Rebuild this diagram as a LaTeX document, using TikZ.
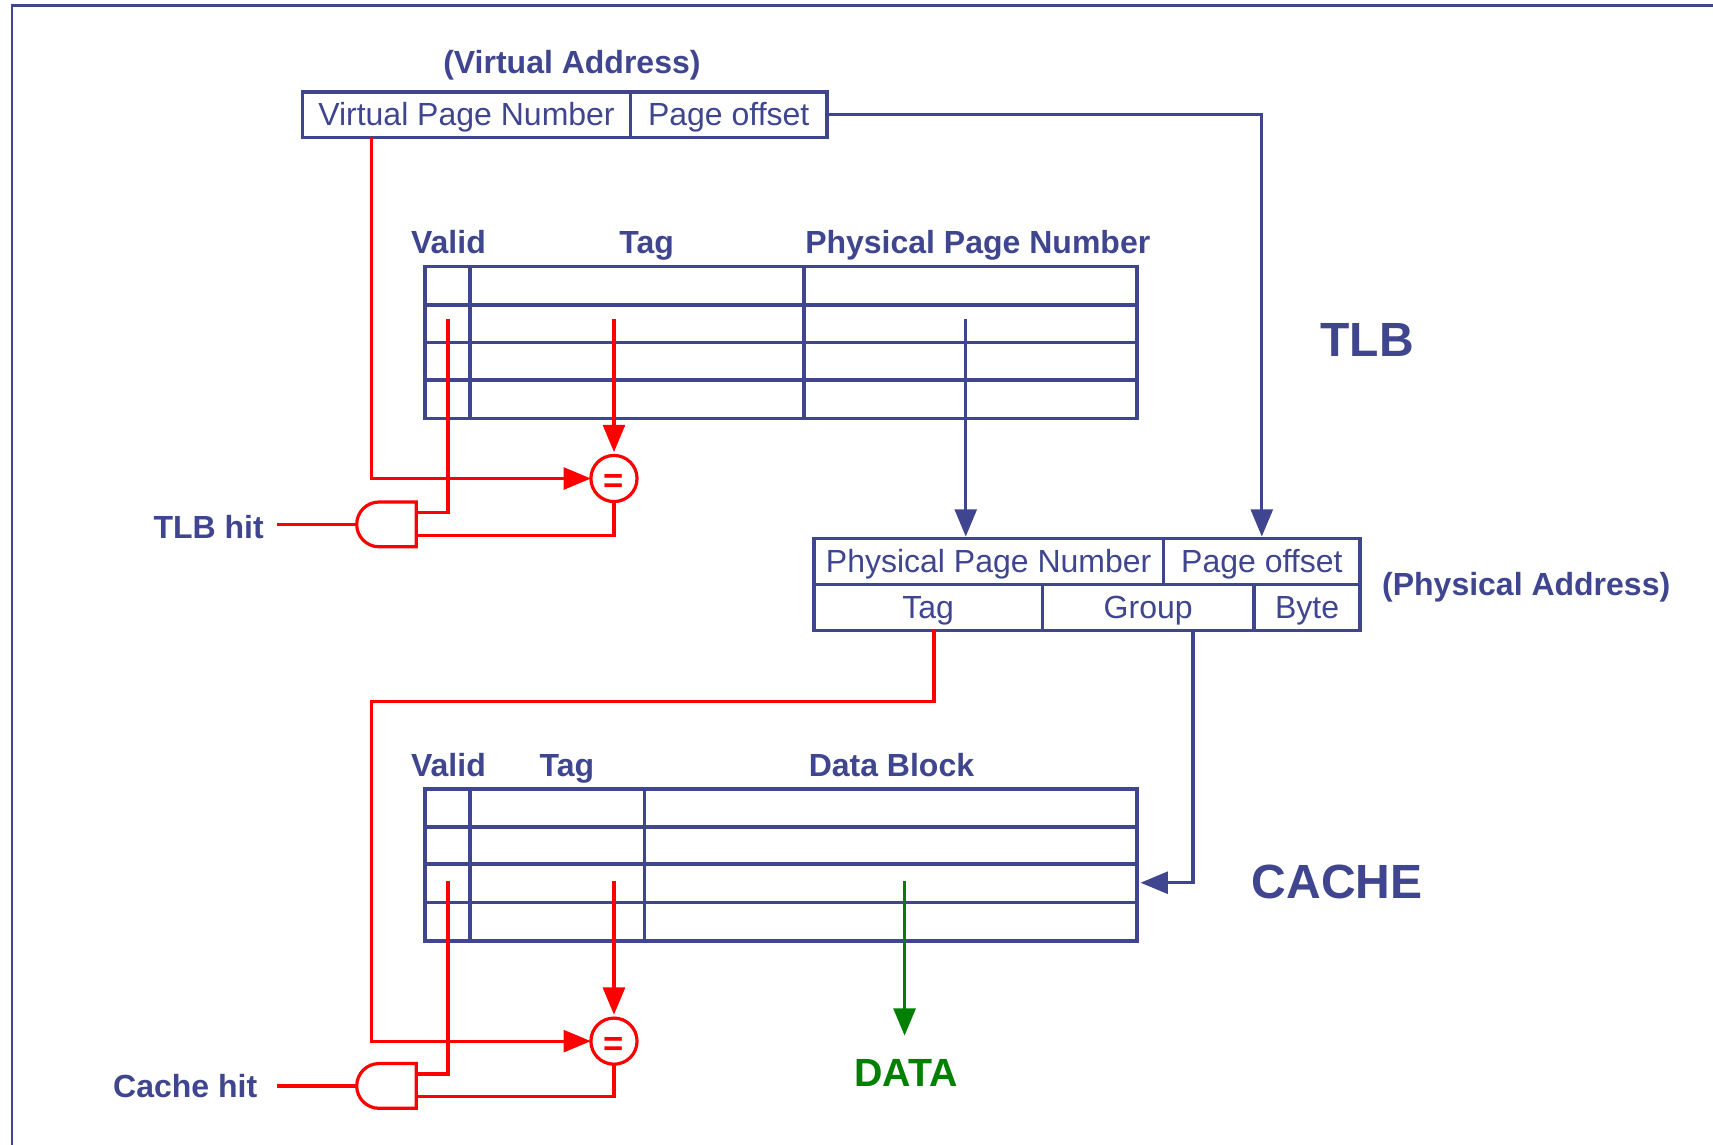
\documentclass[tikz,border=0pt]{standalone}
\usepackage{fontspec}
\setmainfont{Liberation Sans}
\usetikzlibrary{arrows.meta}
\definecolor{navy}{HTML}{3F468F}
\definecolor{wirered}{HTML}{FF0000}
\definecolor{datagreen}{HTML}{008000}
\def\uu{0.8194pt}
\tikzset{
  x=\uu, y=-\uu,
  cell/.style={draw=navy, line width=2.6pt, text=navy, inner sep=0pt, outer sep=0pt,
    font=\fontsize{24}{28}\selectfont, text height=22pt, text depth=5.1pt, anchor=center, line join=miter},
  grid/.style={draw=navy, line width=2.8pt, line cap=rect},
  head/.style={text=navy, inner sep=0pt, outer sep=0pt, font=\fontsize{24}{28}\bfseries\selectfont,
    text height=22pt, text depth=5.1pt},
  big/.style={text=navy, inner sep=0pt, outer sep=0pt, font=\fontsize{36}{40}\bfseries\selectfont},
  bluew/.style={draw=navy, line width=2.4pt},
  redw/.style={draw=wirered, line width=2.4pt},
  greenw/.style={draw=datagreen, line width=2.6pt},
  tip/.style={-{Triangle[length=25*\uu,width=20*\uu]}},
  cmp/.style={circle, draw=wirered, line width=2.4pt, fill=white, minimum size=42*\uu, inner sep=0pt, outer sep=0pt,
    text=wirered, font=\fontsize{26}{28}\bfseries\selectfont, text height=26pt, text depth=5.1pt},
  gatebox/.style={minimum width=54*\uu, minimum height=41*\uu, inner sep=0pt, outer sep=0pt},
  gateline/.style={draw=wirered, line width=2.4pt, line join=miter},
}
\begin{document}
\begin{tikzpicture}
\useasboundingbox (0,0) rectangle (1568,1048.06);
\fill[white] (0,0) rectangle (1568,1048.06);
% outer frame
\draw[draw=navy, line width=1.6pt] (11,1048.06) -- (11,5) -- (1568,5);

% virtual address
\node[head] (valabel) at (523.5,57) {(Virtual Address)};
\node[cell, minimum width=300*\uu, minimum height=42*\uu] (vpn) at (427,105) {Virtual Page Number};
\node[cell, minimum width=180*\uu, minimum height=42*\uu] (voff) at (667,105) {Page offset};

% TLB table
\node[head] (tv) at (410.5,222) {Valid};
\node[head] (tt) at (592,222) {Tag};
\node[head] (tp) at (895,222) {Physical Page Number};
\foreach \yy in {244,279,313.5,348,383} \draw[grid] (389,\yy) -- (1041,\yy);
\foreach \xx in {389,430,736,1041} \draw[grid] (\xx,244) -- (\xx,383);
\node[big] (tlbname) at (1251.5,311) {TLB};

% physical address
\node[cell, minimum width=320*\uu, minimum height=42*\uu] (ppn) at (905,514) {Physical Page Number};
\node[cell, minimum width=180*\uu, minimum height=42*\uu] (poff) at (1155,514) {Page offset};
\node[cell, minimum width=209*\uu, minimum height=42*\uu] (ptag) at (849.5,556) {Tag};
\node[cell, minimum width=194*\uu, minimum height=42*\uu] (pgrp) at (1051,556) {Group};
\node[cell, minimum width=97*\uu, minimum height=42*\uu] (pbyte) at (1196.5,556) {Byte};
\node[head] (palabel) at (1397,535) {(Physical Address)};

% cache table
\node[head] (cv) at (410.5,700) {Valid};
\node[head] (ct) at (519,700) {Tag};
\node[head] (cd) at (816,700) {Data Block};
\foreach \yy in {722,757,791,826,861} \draw[grid] (389,\yy) -- (1041,\yy);
\foreach \xx in {389,430,590,1041} \draw[grid] (\xx,722) -- (\xx,861);
\node[big] (cachename) at (1224,807) {CACHE};

% comparators and gates
\node[cmp] (eqa) at (562,438) {=};
\node[cmp] (eqb) at (562,953) {=};
\node[gatebox] (ga) at (354,480) {};
\node[gatebox] (gb) at (354,994) {};
\draw[gateline] (ga.north east) -- (347,459.5) arc[start angle=90,end angle=270,radius=20.5*\uu] -- (ga.south east) -- cycle;
\draw[gateline] (gb.north east) -- (347,973.5) arc[start angle=90,end angle=270,radius=20.5*\uu] -- (gb.south east) -- cycle;

\node[head] (tlbhit) at (191,483) {TLB hit};
\node[head] (cachehit) at (169.5,994) {Cache hit};
\node[text=datagreen, inner sep=0pt, outer sep=0pt, font=\fontsize{29.5}{32}\bfseries\selectfont] (data) at (829.5,982) {DATA};

% free wire ends
\coordinate (vtap) at (340,126);
\coordinate (tv1) at (410,292);
\coordinate (tt1) at (562,292);
\coordinate (tp1) at (884,292);
\coordinate (gain) at (381,469);
\coordinate (gaout) at (381,490);
\coordinate (hita) at (254,480);
\coordinate (ctap) at (855,577);
\coordinate (cbend) at (340,642);
\coordinate (gtap) at (1092,577);
\coordinate (cin) at (1044,808);
\coordinate (cv1) at (410,806);
\coordinate (ct1) at (562,806);
\coordinate (cd1) at (828,806);
\coordinate (cd2) at (828,948);
\coordinate (gbin) at (381,983);
\coordinate (gbout) at (381,1004);
\coordinate (hitb) at (254,994);

% blue connectors
\draw[bluew, tip] (voff.east) -| ([yshift=1.5pt]poff.north);
\draw[bluew, tip] (tp1) -- ([yshift=1.5pt]tp1 |- ppn.north);
\draw[bluew, tip] (gtap) |- (cin);

% TLB red wires
\draw[redw, tip] (vtap) |- (eqa.west);
\draw[redw, tip, shorten >=3*\uu] (tt1) -- (eqa.north);
\draw[redw] (tv1) |- (gain);
\draw[redw] (gaout) -| (eqa.south);
\draw[redw] (hita) -- (ga.west);

% cache red wires
\draw[redw, tip] (ctap) |- (cbend) |- (eqb.west);
\draw[redw, tip, shorten >=3*\uu] (ct1) -- (eqb.north);
\draw[redw] (cv1) |- (gbin);
\draw[redw] (gbout) -| (eqb.south);
\draw[redw] (hitb) -- (gb.west);

% data
\draw[greenw, tip] (cd1) -- (cd2);
\end{tikzpicture}
\end{document}
